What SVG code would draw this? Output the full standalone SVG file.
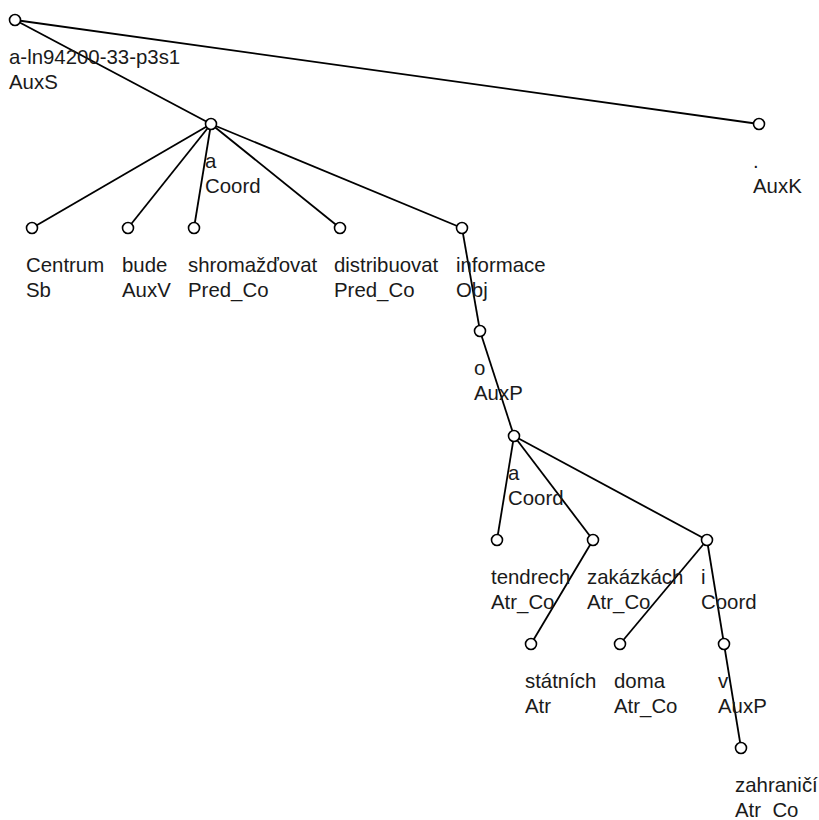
<svg xmlns="http://www.w3.org/2000/svg" width="819" height="820" viewBox="0 0 819 820">
  <style>
    .edge { stroke: #000; stroke-width: 1.8; fill: none; }
    .node circle { fill: #fff; stroke: #000; stroke-width: 1.6; }
    .node text { font-family: "Liberation Sans", Arial, sans-serif; font-size: 20.4px; fill: #1a1a1a; }
  </style>
  <rect width="819" height="820" fill="#fff"/>

  <!-- dependency edges, parent centre to child centre -->
  <g id="edges">
    <line class="edge" x1="15" y1="20" x2="211" y2="124"/>
    <line class="edge" x1="15" y1="20" x2="759" y2="124"/>
    <line class="edge" x1="211" y1="124" x2="32" y2="228"/>
    <line class="edge" x1="211" y1="124" x2="128" y2="228"/>
    <line class="edge" x1="211" y1="124" x2="194" y2="228"/>
    <line class="edge" x1="211" y1="124" x2="340" y2="228"/>
    <line class="edge" x1="211" y1="124" x2="462" y2="228"/>
    <line class="edge" x1="462" y1="228" x2="480" y2="331"/>
    <line class="edge" x1="480" y1="331" x2="514" y2="436"/>
    <line class="edge" x1="514" y1="436" x2="497" y2="540"/>
    <line class="edge" x1="514" y1="436" x2="593" y2="540"/>
    <line class="edge" x1="514" y1="436" x2="707" y2="540"/>
    <line class="edge" x1="593" y1="540" x2="531" y2="644"/>
    <line class="edge" x1="707" y1="540" x2="620" y2="644"/>
    <line class="edge" x1="707" y1="540" x2="724" y2="644"/>
    <line class="edge" x1="724" y1="644" x2="741" y2="748"/>
  </g>

  <g id="n-root" class="node" transform="translate(15,20)">
    <circle r="5.5"/>
    <text x="-6" y="44">a-ln94200-33-p3s1</text>
    <text x="-6" y="69">AuxS</text>
  </g>
  <g id="n-a1" class="node" transform="translate(211,124)">
    <circle r="5.5"/>
    <text x="-6" y="44">a</text>
    <text x="-6" y="69">Coord</text>
  </g>
  <g id="n-auxk" class="node" transform="translate(759,124)">
    <circle r="5.5"/>
    <text x="-6" y="44">.</text>
    <text x="-6" y="69">AuxK</text>
  </g>
  <g id="n-centrum" class="node" transform="translate(32,228)">
    <circle r="5.5"/>
    <text x="-6" y="44">Centrum</text>
    <text x="-6" y="69">Sb</text>
  </g>
  <g id="n-bude" class="node" transform="translate(128,228)">
    <circle r="5.5"/>
    <text x="-6" y="44">bude</text>
    <text x="-6" y="69">AuxV</text>
  </g>
  <g id="n-shromazdovat" class="node" transform="translate(194,228)">
    <circle r="5.5"/>
    <text x="-6" y="44">shromažďovat</text>
    <text x="-6" y="69">Pred_Co</text>
  </g>
  <g id="n-distribuovat" class="node" transform="translate(340,228)">
    <circle r="5.5"/>
    <text x="-6" y="44">distribuovat</text>
    <text x="-6" y="69">Pred_Co</text>
  </g>
  <g id="n-informace" class="node" transform="translate(462,228)">
    <circle r="5.5"/>
    <text x="-6" y="44">informace</text>
    <text x="-6" y="69">Obj</text>
  </g>
  <g id="n-o" class="node" transform="translate(480,331)">
    <circle r="5.5"/>
    <text x="-6" y="44">o</text>
    <text x="-6" y="69">AuxP</text>
  </g>
  <g id="n-a2" class="node" transform="translate(514,436)">
    <circle r="5.5"/>
    <text x="-6" y="44">a</text>
    <text x="-6" y="69">Coord</text>
  </g>
  <g id="n-tendrech" class="node" transform="translate(497,540)">
    <circle r="5.5"/>
    <text x="-6" y="44">tendrech</text>
    <text x="-6" y="69">Atr_Co</text>
  </g>
  <g id="n-zakazkach" class="node" transform="translate(593,540)">
    <circle r="5.5"/>
    <text x="-6" y="44">zakázkách</text>
    <text x="-6" y="69">Atr_Co</text>
  </g>
  <g id="n-i" class="node" transform="translate(707,540)">
    <circle r="5.5"/>
    <text x="-6" y="44">i</text>
    <text x="-6" y="69">Coord</text>
  </g>
  <g id="n-statnich" class="node" transform="translate(531,644)">
    <circle r="5.5"/>
    <text x="-6" y="44">státních</text>
    <text x="-6" y="69">Atr</text>
  </g>
  <g id="n-doma" class="node" transform="translate(620,644)">
    <circle r="5.5"/>
    <text x="-6" y="44">doma</text>
    <text x="-6" y="69">Atr_Co</text>
  </g>
  <g id="n-v" class="node" transform="translate(724,644)">
    <circle r="5.5"/>
    <text x="-6" y="44">v</text>
    <text x="-6" y="69">AuxP</text>
  </g>
  <g id="n-zahranici" class="node" transform="translate(741,748)">
    <circle r="5.5"/>
    <text x="-6" y="44">zahraničí</text>
    <text x="-6" y="69">Atr_Co</text>
  </g>
</svg>
